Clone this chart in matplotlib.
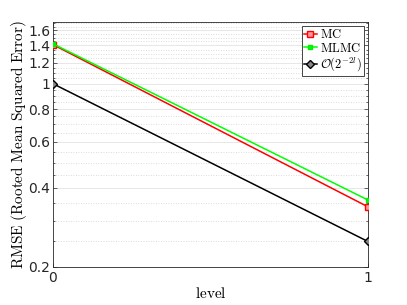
import matplotlib
matplotlib.use("Agg")
import matplotlib.pyplot as plt
from matplotlib.ticker import FixedLocator, FixedFormatter, NullFormatter

plt.rcParams['mathtext.fontset'] = 'cm'

levels = [0, 1]
mc = [1.41, 0.339]
mlmc = [1.42, 0.36]
ref = [1.0, 0.25]
yticks = [0.2, 0.4, 0.6, 0.8, 1, 1.2, 1.4, 1.6]
yticklabels = ['0.2', '0.4', '0.6', '0.8', '1', '1.2', '1.4', '1.6']
yminor = [0.25, 0.3, 0.35, 0.45, 0.5, 0.55, 0.65, 0.7, 0.75, 0.85, 0.9, 0.95,
          1.05, 1.1, 1.15, 1.25, 1.3, 1.35, 1.45, 1.5, 1.55, 1.65, 1.7]

fig = plt.figure(figsize=(4.07, 3.05), dpi=100)
ax = fig.add_axes([0.130, 0.125, 0.774, 0.803])

ax.plot(levels, mc, color='#ff0000', marker='s', markersize=4.5, markerfacecolor='#ff9999',
        markeredgecolor='#ff0000', lw=1.1, label=r'$\mathrm{MC}$', zorder=3)
ax.plot(levels, mlmc, color='#00ff00', marker='s', markersize=3.5, markerfacecolor='#00ff00',
        markeredgecolor='#00ee00', lw=1.1, label=r'$\mathrm{MLMC}$', zorder=3)
ax.plot(levels, ref, color='black', marker='D', markersize=4, markerfacecolor='#888888',
        markeredgecolor='black', lw=1.1, label=r'$\mathcal{O}(2^{-2l})$', zorder=3)

ax.set_yscale('log')
ax.set_xlim(0, 1)
ax.set_ylim(0.2, 1.72)
ax.yaxis.set_major_locator(FixedLocator(yticks))
ax.yaxis.set_major_formatter(FixedFormatter(yticklabels))
ax.yaxis.set_minor_locator(FixedLocator(yminor))
ax.yaxis.set_minor_formatter(NullFormatter())
ax.xaxis.set_major_locator(FixedLocator([0, 1]))
ax.set_xticklabels(['0', '1'])

ax.grid(True, which='major', axis='y', color='#e3e3e3', lw=0.6, ls='-')
ax.grid(True, which='minor', axis='y', color='#d0d0d0', lw=0.6, ls=(0, (1, 2)))
ax.set_axisbelow(True)

for s in ax.spines.values():
    s.set_color('#262626')
    s.set_linewidth(0.6)
ax.tick_params(which='both', direction='in', right=True, top=True, colors='#262626',
               labelsize=10, width=0.5)
ax.tick_params(which='major', length=3)
ax.tick_params(which='minor', length=1.5)
for lab in ax.get_xticklabels() + ax.get_yticklabels():
    lab.set_color('#262626')
ax.tick_params(axis='x', pad=3)
ax.tick_params(axis='y', pad=2)

ax.set_xlabel(r'$\mathrm{level}$', fontsize=11, labelpad=1)
ax.set_ylabel(r'$\mathrm{RMSE\ (Rooted\ Mean\ Squared\ Error)}$', fontsize=11, labelpad=-1)

leg = ax.legend(loc='upper right', fontsize=9, handlelength=1.0, handletextpad=0.25,
                borderpad=0.2, labelspacing=0.05, fancybox=False, framealpha=1,
                borderaxespad=0.3)
leg.get_frame().set_edgecolor('#262626')
leg.get_frame().set_linewidth(0.6)

fig.savefig('out.png', dpi=100)
